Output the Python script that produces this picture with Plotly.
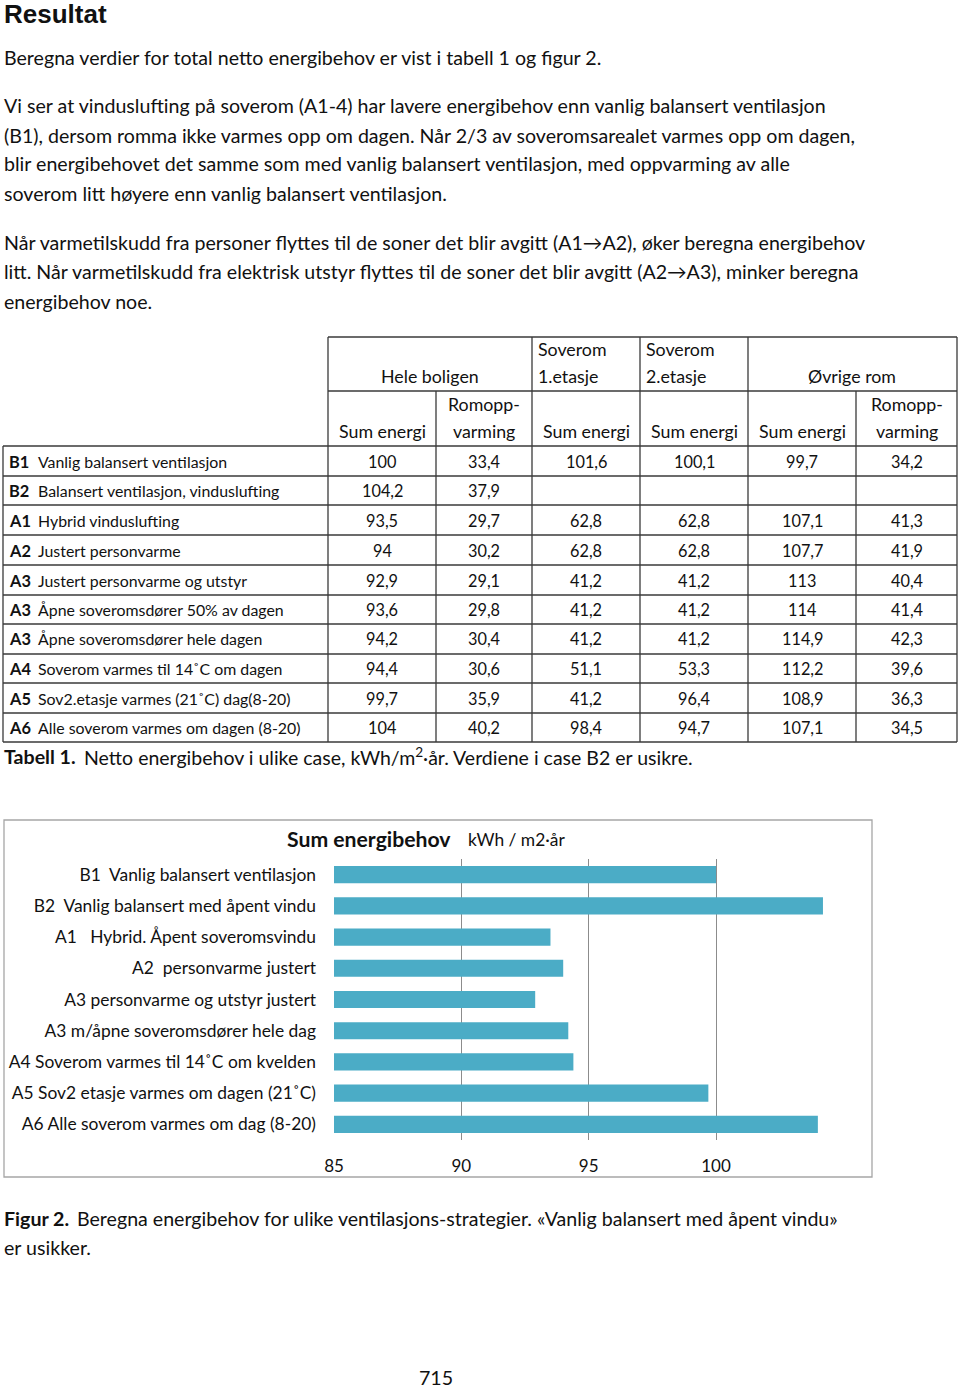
import plotly.graph_objects as go

# ---------------- data ----------------
case_codes = ["B1", "B2", "A1", "A2", "A3", "A3", "A3", "A4", "A5", "A6"]
case_names = [
    "Vanlig balansert ventilasjon",
    "Balansert ventilasjon, vinduslufting",
    "Hybrid vinduslufting",
    "Justert personvarme",
    "Justert personvarme og utstyr",
    "Åpne soveromsdører 50% av dagen",
    "Åpne soveromsdører hele dagen",
    "Soverom varmes til 14˚C om dagen",
    "Sov2.etasje varmes (21˚C) dag(8-20)",
    "Alle soverom varmes om dagen (8-20)",
]
hele_sum = [100, 104.2, 93.5, 94, 92.9, 93.6, 94.2, 94.4, 99.7, 104]
hele_romopp = [33.4, 37.9, 29.7, 30.2, 29.1, 29.8, 30.4, 30.6, 35.9, 40.2]
sov1_sum = [101.6, None, 62.8, 62.8, 41.2, 41.2, 41.2, 51.1, 41.2, 98.4]
sov2_sum = [100.1, None, 62.8, 62.8, 41.2, 41.2, 41.2, 53.3, 96.4, 94.7]
ovrige_sum = [99.7, None, 107.1, 107.7, 113, 114, 114.9, 112.2, 108.9, 107.1]
ovrige_romopp = [34.2, None, 41.3, 41.9, 40.4, 41.4, 42.3, 39.6, 36.3, 34.5]

chart_labels = [
    "B1  Vanlig balansert ventilasjon",
    "B2  Vanlig balansert med åpent vindu",
    "A1   Hybrid. Åpent soveromsvindu",
    "A2  personvarme justert",
    "A3 personvarme og utstyr justert",
    "A3 m/åpne soveromsdører hele dag",
    "A4 Soverom varmes til 14˚C om kvelden",
    "A5 Sov2 etasje varmes om dagen (21˚C)",
    "A6 Alle soverom varmes om dag (8-20)",
]
chart_values = [100, 104.2, 93.5, 94.0, 92.9, 94.2, 94.4, 99.7, 104.0]
x_ticks = [85, 90, 95, 100]

# ---------------- page geometry helpers ----------------
W, H = 960, 1389
FONT = "Lato"
TXT = "#111111"
PAD = 2


def X(px):
    return px / W


def Y(py):
    return 1 - py / H


def fmt(v):
    if v is None:
        return ""
    return f"{v:g}".replace(".", ",")


def nb(s):
    return s.replace("  ", "\u00a0\u00a0")


annotations = []
shapes = []


def text(x, y, s, size=18, anchor="left", bold=False, color=TXT, font=FONT):
    if not s:
        return
    if anchor == "left":
        x = x - PAD
    annotations.append(dict(
        x=X(x), y=Y(y), xref="paper", yref="paper",
        text=("<b>%s</b>" % s) if bold else s,
        showarrow=False, xanchor=anchor, yanchor="middle",
        font=dict(family=font, size=size, color=color),
    ))


def line(x0, y0, x1, y1, color="#3a3a3a", width=1.3):
    shapes.append(dict(type="line", xref="paper", yref="paper",
                       x0=X(x0), y0=Y(y0), x1=X(x1), y1=Y(y1),
                       line=dict(color=color, width=width)))


# ---------------- text body ----------------
text(4, 14, "Resultat", size=26, bold=True, font="Liberation Sans")
PS = 19.6
text(4, 57, "Beregna verdier for total netto energibehov er vist i tabell 1 og figur 2.", PS)
para2 = [
    "Vi ser at vinduslufting på soverom (A1-4) har lavere energibehov enn vanlig balansert ventilasjon",
    "(B1), dersom romma ikke varmes opp om dagen. Når 2/3 av soveromsarealet varmes opp om dagen,",
    "blir energibehovet det samme som med vanlig balansert ventilasjon, med oppvarming av alle",
    "soverom litt høyere enn vanlig balansert ventilasjon.",
]
for s, yy in zip(para2, [105, 135, 164, 193]):
    text(4, yy, s, PS)
para3 = [
    "Når varmetilskudd fra personer flyttes til de soner det blir avgitt (A1→A2), øker beregna energibehov",
    "litt. Når varmetilskudd fra elektrisk utstyr flyttes til de soner det blir avgitt (A2→A3), minker beregna",
    "energibehov noe.",
]
for s, yy in zip(para3, [242, 272, 301]):
    text(4, yy, s, PS)

# ---------------- table ----------------
col_x = [3, 328, 436, 532, 640, 748, 856, 957]
row_y = [446, 476, 505, 535, 565, 595, 624, 654, 683, 713, 742]
hdr_top, hdr_mid = 337, 391
HS = 17.8   # header font
TS = 16.3   # value font
LS = 15.9   # row label font

# header grid
line(328, hdr_top, 957, hdr_top)
line(328, hdr_mid, 957, hdr_mid)
for cx in [328, 532, 640, 748, 957]:
    line(cx, hdr_top, cx, hdr_mid)
for cx in [328, 436, 532, 640, 748, 856, 957]:
    line(cx, hdr_mid, cx, row_y[0])
# body grid
for ry in row_y:
    line(3, ry, 957, ry)
for cx in col_x:
    line(cx, row_y[0], cx, row_y[-1])

# header texts
text(430, 376, "Hele boligen", HS, anchor="center")
text(538, 349, "Soverom", HS)
text(538, 376, "1.etasje", HS)
text(646, 349, "Soverom", HS)
text(646, 376, "2.etasje", HS)
text(852, 376, "Øvrige rom", HS, anchor="center")
centers = [(col_x[i] + col_x[i + 1]) / 2 for i in range(1, 7)]
for i, c in enumerate(centers):
    if i in (1, 5):
        text(c, 404, "Romopp-", HS, anchor="center")
        text(c, 431, "varming", HS, anchor="center")
    else:
        text(c, 431, "Sum energi", HS, anchor="center")

# body texts
columns = [hele_sum, hele_romopp, sov1_sum, sov2_sum, ovrige_sum, ovrige_romopp]
for r in range(len(case_codes)):
    yc = (row_y[r] + row_y[r + 1]) / 2
    text(9, yc, case_codes[r], LS + 0.5, bold=True)
    text(38, yc, case_names[r], LS)
    for ci, col in enumerate(columns):
        text(centers[ci], yc, fmt(col[r]), TS, anchor="center")

text(4, 757, "Tabell 1.", PS, bold=True)
text(84, 757, "Netto energibehov i ulike case, kWh/m<sup>2</sup>·år. Verdiene i case B2 er usikre.", 19.5)

# ---------------- chart ----------------
shapes.append(dict(type="rect", xref="paper", yref="paper",
                   x0=X(4), y0=Y(1177), x1=X(872), y1=Y(820),
                   line=dict(color="#a6a6a6", width=1.3), fillcolor="rgba(0,0,0,0)"))
text(287, 839, "Sum energibehov", 21.2, bold=True)
text(468, 839, "kWh / m2·år", 17.4)

x_lo, x_hi = 85, 105
px_lo, px_per = 334, (716 - 334) / 15.0
fig = go.Figure()
fig.add_trace(go.Bar(
    y=[nb(s) for s in chart_labels], x=chart_values, orientation="h",
    marker=dict(color="#4bacc6", line=dict(width=0)),
    hoverinfo="x+y",
))
fig.update_layout(
    width=W, height=H,
    margin=dict(l=0, r=0, t=0, b=0, pad=0),
    paper_bgcolor="white", plot_bgcolor="white",
    showlegend=False, bargap=0.45,
    shapes=shapes,
    xaxis=dict(
        domain=[X(px_lo), X(px_lo + (x_hi - x_lo) * px_per)],
        range=[x_lo, x_hi], tickvals=x_ticks, ticktext=[str(v) for v in x_ticks],
        showgrid=True, gridcolor="#8c8c8c", gridwidth=1, zeroline=False,
        showline=False, ticks="", ticklabelstandoff=14, automargin=False,
        tickfont=dict(family=FONT, size=17, color=TXT),
    ),
    yaxis=dict(
        domain=[Y(1140), Y(859)], autorange="reversed",
        showgrid=False, zeroline=False, showline=False, ticks="",
        ticklabelstandoff=17, automargin=False,
        tickfont=dict(family=FONT, size=17.4, color=TXT),
    ),
)

text(4, 1218, "Figur 2.", PS, bold=True)
text(77, 1218, "Beregna energibehov for ulike ventilasjons-strategier. «Vanlig balansert med åpent vindu»", PS)
text(4, 1247, "er usikker.", PS)
text(436, 1377, "715", PS, anchor="center")
fig.update_layout(annotations=annotations)

fig.write_html("out.html", config={"displayModeBar": False},
               post_script="document.body.style.margin='0';document.body.style.overflow='hidden';")
